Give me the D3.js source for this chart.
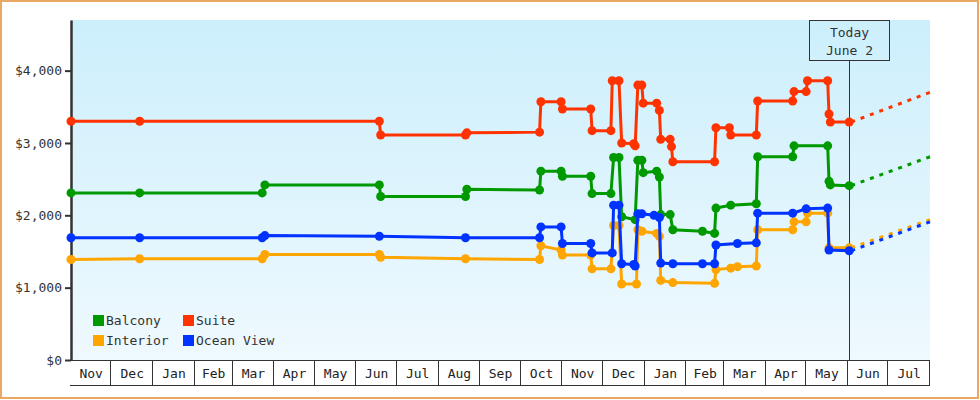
<!DOCTYPE html>
<html>
<head>
<meta charset="utf-8">
<script src="https://cdn.jsdelivr.net/npm/d3@7"></script>
<style>
  body { margin: 0; background: #fff; }
  svg { display: block; font-family: "DejaVu Sans Mono", monospace; }
</style>
</head>
<body>
<svg id="chart"></svg>
<script>
// price history, one array per cabin type: [date, price]
var balcony = [
  ["2016-11-01", 2310], ["2016-12-22", 2310], ["2017-03-23", 2310], ["2017-03-25", 2420],
  ["2017-06-18", 2420], ["2017-06-19", 2260], ["2017-08-21", 2260], ["2017-08-22", 2360],
  ["2017-10-15", 2350], ["2017-10-16", 2610], ["2017-10-31", 2610], ["2017-11-01", 2540],
  ["2017-11-22", 2540], ["2017-11-23", 2300], ["2017-12-07", 2300], ["2017-12-09", 2800],
  ["2017-12-13", 2800], ["2017-12-15", 1980], ["2017-12-25", 1940], ["2017-12-27", 2760],
  ["2017-12-30", 2760], ["2017-12-31", 2590], ["2018-01-10", 2610], ["2018-01-12", 2530],
  ["2018-01-13", 2010], ["2018-01-20", 2010], ["2018-01-22", 1800], ["2018-02-13", 1780],
  ["2018-02-22", 1750], ["2018-02-23", 2100], ["2018-03-06", 2140], ["2018-03-25", 2160],
  ["2018-03-26", 2810], ["2018-04-21", 2810], ["2018-04-22", 2960], ["2018-05-17", 2960],
  ["2018-05-18", 2470], ["2018-05-19", 2420], ["2018-06-02", 2410]
]
var suite = [
  ["2016-11-01", 3300], ["2016-12-22", 3300], ["2017-06-18", 3300], ["2017-06-19", 3110],
  ["2017-08-21", 3110], ["2017-08-22", 3140], ["2017-10-15", 3150], ["2017-10-16", 3570],
  ["2017-10-31", 3570], ["2017-11-01", 3470], ["2017-11-22", 3470], ["2017-11-23", 3170],
  ["2017-12-07", 3170], ["2017-12-08", 3860], ["2017-12-13", 3860], ["2017-12-15", 3000],
  ["2017-12-24", 2990], ["2017-12-25", 2960], ["2017-12-27", 3800], ["2017-12-30", 3800],
  ["2017-12-31", 3550], ["2018-01-10", 3550], ["2018-01-12", 3450], ["2018-01-13", 3050],
  ["2018-01-20", 3050], ["2018-01-21", 2950], ["2018-01-22", 2740], ["2018-02-22", 2740],
  ["2018-02-23", 3210], ["2018-03-05", 3210], ["2018-03-06", 3110], ["2018-03-25", 3110],
  ["2018-03-26", 3580], ["2018-04-21", 3580], ["2018-04-22", 3710], ["2018-05-01", 3710],
  ["2018-05-02", 3860], ["2018-05-17", 3860], ["2018-05-18", 3400], ["2018-05-19", 3290],
  ["2018-06-02", 3290]
]
var interior = [
  ["2016-11-01", 1390], ["2016-12-22", 1400], ["2017-03-23", 1400], ["2017-03-25", 1460],
  ["2017-06-18", 1460], ["2017-06-19", 1420], ["2017-08-21", 1400], ["2017-10-15", 1390],
  ["2017-10-16", 1580], ["2017-10-31", 1520], ["2017-11-01", 1450], ["2017-11-22", 1450],
  ["2017-11-23", 1260], ["2017-12-07", 1260], ["2017-12-09", 1860], ["2017-12-13", 1860],
  ["2017-12-15", 1050], ["2017-12-26", 1050], ["2017-12-27", 1800], ["2017-12-30", 1780],
  ["2018-01-10", 1750], ["2018-01-12", 1710], ["2018-01-13", 1100], ["2018-01-22", 1070],
  ["2018-02-22", 1060], ["2018-02-23", 1250], ["2018-03-06", 1270], ["2018-03-11", 1290],
  ["2018-03-25", 1300], ["2018-03-26", 1800], ["2018-04-21", 1800], ["2018-04-22", 1910],
  ["2018-05-01", 1910], ["2018-05-02", 2030], ["2018-05-17", 2030], ["2018-05-18", 1550],
  ["2018-06-02", 1550]
]
var oceanView = [
  ["2016-11-01", 1690], ["2016-12-22", 1690], ["2017-03-23", 1690], ["2017-03-25", 1720],
  ["2017-06-18", 1710], ["2017-08-21", 1690], ["2017-10-15", 1690], ["2017-10-16", 1840],
  ["2017-10-31", 1840], ["2017-11-01", 1610], ["2017-11-22", 1610], ["2017-11-23", 1480],
  ["2017-12-08", 1480], ["2017-12-09", 2140], ["2017-12-13", 2140], ["2017-12-15", 1330],
  ["2017-12-24", 1320], ["2017-12-25", 1300], ["2017-12-27", 2020], ["2017-12-30", 2020],
  ["2018-01-08", 2000], ["2018-01-12", 1970], ["2018-01-13", 1340], ["2018-01-22", 1330],
  ["2018-02-13", 1330], ["2018-02-22", 1330], ["2018-02-23", 1590], ["2018-03-11", 1610],
  ["2018-03-25", 1620], ["2018-03-26", 2030], ["2018-04-21", 2030], ["2018-05-01", 2090],
  ["2018-05-17", 2100], ["2018-05-18", 1520], ["2018-06-02", 1510]
]
// projected price at the end of the chart
var projection = [
  ["Balcony", 2810], ["Suite", 3700], ["Interior", 1940], ["Ocean View", 1910]
]
var seriesNames = ["Balcony", "Suite", "Interior", "Ocean View"]
var yTicks = [0, 1000, 2000, 3000, 4000]
var todayDate = "2018-06-02"
var todayLabel = ["Today", "June 2"]
var startDate = "2016-11-01", endDate = "2018-08-01"

var width = 980, height = 400
var parse = d3.timeParse("%Y-%m-%d")
var allSeries = [balcony, suite, interior, oceanView]

var svg = d3.select("#chart")
  .attr("width", width)
  .attr("height", height)

var x = d3.scaleTime().domain([parse(startDate), parse(endDate)]).range([71, 930])
var y = d3.scaleLinear().domain([0, 4700]).range([360, 20])
var color = d3.scaleOrdinal().domain(seriesNames).range(["#009900", "#ff3300", "#ffa500", "#0033ff"])

// background gradient
var grad = svg.append("defs").append("linearGradient")
  .attr("id", "bg").attr("x1", 0).attr("y1", 0).attr("x2", 0).attr("y2", 1)
grad.append("stop").attr("offset", "0%").attr("stop-color", "#cceffc")
grad.append("stop").attr("offset", "100%").attr("stop-color", "#eff9fe")

svg.append("rect")
  .attr("x", x.range()[0]).attr("y", y.range()[1])
  .attr("width", x.range()[1] - x.range()[0])
  .attr("height", y.range()[0] - y.range()[1])
  .attr("fill", "url(#bg)")

// outer border
svg.append("rect")
  .attr("x", 1).attr("y", 1).attr("width", width - 3).attr("height", height - 3)
  .attr("fill", "none").attr("stroke", "#e9a864").attr("stroke-width", 2)

// y axis
var yAxis = svg.append("g")
  .attr("transform", "translate(71,0)")
  .call(d3.axisLeft(y).tickValues(yTicks).tickFormat(d3.format("$,")).tickSizeInner(6).tickSizeOuter(0).tickPadding(3))
yAxis.select(".domain").attr("stroke", "#333").attr("stroke-width", 2.5)
yAxis.selectAll(".tick line").attr("stroke", "#333").attr("stroke-width", 2)
yAxis.selectAll("text").attr("font-family", "DejaVu Sans Mono, monospace").attr("font-size", 13).attr("fill", "#333")

// month cells on the x axis
var months = d3.timeMonths(x.domain()[0], x.domain()[1])
var xAxis = svg.append("g")
xAxis.append("line")
  .attr("x1", x.range()[0] - 1).attr("x2", x.range()[1])
  .attr("y1", 360.5).attr("y2", 360.5).attr("stroke", "#333")
xAxis.append("line")
  .attr("x1", x.range()[0] - 1).attr("x2", x.range()[1])
  .attr("y1", 385.5).attr("y2", 385.5).attr("stroke", "#333")
xAxis.selectAll(".cell")
  .data(months)
  .enter().append("line")
  .attr("x1", d => Math.round(x(d3.timeMonth.offset(d, 1))) - 0.5)
  .attr("x2", d => Math.round(x(d3.timeMonth.offset(d, 1))) - 0.5)
  .attr("y1", 360).attr("y2", 385.5)
  .attr("stroke", "#333")
xAxis.selectAll(".label")
  .data(months)
  .enter().append("text")
  .attr("x", d => (x(d) + x(d3.timeMonth.offset(d, 1))) / 2)
  .attr("y", 378)
  .attr("text-anchor", "middle")
  .attr("font-size", 13)
  .attr("fill", "#222")
  .text(d => d3.timeFormat("%b")(d))

// today marker
var tx = Math.round(x(parse(todayDate))) + 0.5
svg.append("line")
  .attr("x1", tx).attr("x2", tx).attr("y1", 60).attr("y2", 360)
  .attr("stroke", "#333").attr("stroke-width", 1)
svg.append("rect")
  .attr("x", tx - 40).attr("y", 20.5).attr("width", 80).attr("height", 40)
  .attr("fill", "none").attr("stroke", "#333")
svg.selectAll(".today")
  .data(todayLabel)
  .enter().append("text")
  .attr("x", tx)
  .attr("y", (d, i) => 37 + i * 18)
  .attr("text-anchor", "middle")
  .attr("font-size", 13)
  .attr("fill", "#333")
  .text(d => d)

// projection dashes
svg.selectAll(".proj")
  .data(projection)
  .enter().append("line")
  .attr("x1", (d, i) => x(parse(todayDate)) + 2)
  .attr("y1", (d, i) => { var s = allSeries[seriesNames.indexOf(d[0])]; return y(s[s.length - 1][1]) })
  .attr("x2", x(parse(endDate)))
  .attr("y2", d => y(d[1]))
  .attr("stroke", d => color(d[0]))
  .attr("stroke-width", 3)
  .attr("stroke-dasharray", "4,6")

var line = d3.line()
  .x(d => x(parse(d[0])))
  .y(d => y(d[1]))

// draw the four series, ocean view last like the original
var order = [2, 0, 1, 3]
order.forEach(function(i) {
  var data = allSeries[i]
  var g = svg.append("g")
  g.append("path")
    .datum(data)
    .attr("d", line)
    .attr("fill", "none")
    .attr("stroke", color(seriesNames[i]))
    .attr("stroke-width", 3)
  g.selectAll("circle")
    .data(data)
    .enter().append("circle")
    .attr("cx", d => x(parse(d[0])))
    .attr("cy", d => y(d[1]))
    .attr("r", 4.5)
    .attr("fill", color(seriesNames[i]))
})

// legend
var legend = svg.append("g")
  .selectAll("g")
  .data(seriesNames)
  .enter().append("g")
  .attr("transform", (d, i) => "translate(" + (93 + (i % 2) * 90) + "," + (315 + Math.floor(i / 2) * 20) + ")")
legend.append("rect")
  .attr("width", 11).attr("height", 11)
  .attr("fill", d => color(d))
legend.append("text")
  .attr("x", 13).attr("y", 10)
  .attr("font-size", 13)
  .attr("fill", "#333")
  .text(d => d)
</script>
</body>
</html>
